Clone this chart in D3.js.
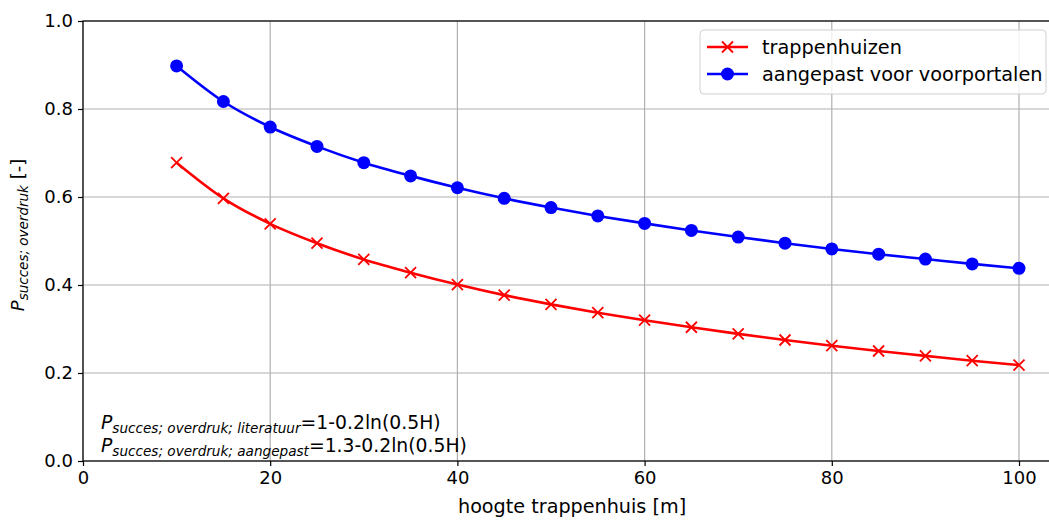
<!DOCTYPE html>
<html><head><meta charset="utf-8">
<script src="https://cdn.jsdelivr.net/npm/d3@7"></script>
<style>body{margin:0;background:#fff;} svg{display:block;font-family:"DejaVu Sans",sans-serif;}</style>
</head><body>
<svg id="c" width="1049" height="520"></svg>
<script>
const heights = [10,15,20,25,30,35,40,45,50,55,60,65,70,75,80,85,90,95,100];
const trappenhuizen = [0.678,0.597,0.539,0.495,0.458,0.428,0.401,0.377,0.356,0.337,0.320,0.304,0.289,0.275,0.262,0.250,0.239,0.228,0.218];
const aangepast = [0.898,0.817,0.759,0.715,0.678,0.648,0.621,0.597,0.576,0.557,0.540,0.524,0.509,0.495,0.482,0.470,0.459,0.448,0.438];
const xTicks = [0,20,40,60,80,100];
const yTicks = [0.0,0.2,0.4,0.6,0.8,1.0];

const svg = d3.select("#c");
const L = 83, T = 21, B = 461;
const x = d3.scaleLinear().domain([0,100]).range([L, 1019]);
const y = d3.scaleLinear().domain([0,1]).range([B, T]);
const xRight = x(104.5);
const FS = 18;

// grid
const g = svg.append("g");
g.selectAll(".gx").data(xTicks).enter().append("line")
  .attr("x1", d=>x(d)).attr("x2", d=>x(d)).attr("y1", T).attr("y2", B)
  .attr("stroke", "#b0b0b0").attr("stroke-width", 1.2);
g.selectAll(".gy").data(yTicks).enter().append("line")
  .attr("x1", L).attr("x2", xRight).attr("y1", d=>y(d)).attr("y2", d=>y(d))
  .attr("stroke", "#b0b0b0").attr("stroke-width", 1.2);

// axes
const xAxis = d3.axisBottom(x).tickValues(xTicks).tickFormat(d3.format("d")).tickSize(5).tickPadding(5);
const yAxis = d3.axisLeft(y).tickValues(yTicks).tickFormat(d3.format(".1f")).tickSize(5).tickPadding(5);
const ax = svg.append("g").attr("transform", `translate(0,${B})`).call(xAxis);
const ay = svg.append("g").attr("transform", `translate(${L},0)`).call(yAxis);
[ax, ay].forEach(a => {
  a.select(".domain").remove();
  a.selectAll("text").attr("font-size", FS).attr("fill", "#000").attr("font-family", "DejaVu Sans");
  a.selectAll("line").attr("stroke", "#000").attr("stroke-width", 1.2);
});
// spines
svg.append("rect").attr("x", L).attr("y", T).attr("width", xRight - L).attr("height", B - T)
  .attr("fill", "none").attr("stroke", "#000").attr("stroke-width", 1.2);

// lines
const makeLine = vals => d3.line().x((d,i)=>x(heights[i])).y(d=>y(d)).curve(d3.curveMonotoneX)(vals);
svg.append("path").attr("d", makeLine(trappenhuizen)).attr("fill","none").attr("stroke","#ff0000").attr("stroke-width",2.6);
svg.append("path").attr("d", makeLine(aangepast)).attr("fill","none").attr("stroke","#0000ff").attr("stroke-width",2.6);

// markers
const s = 5.5;
svg.selectAll(".xm").data(trappenhuizen).enter().append("path")
  .attr("d", (d,i)=>{const cx=x(heights[i]), cy=y(d); return `M${cx-s},${cy-s}L${cx+s},${cy+s}M${cx-s},${cy+s}L${cx+s},${cy-s}`;})
  .attr("stroke","#ff0000").attr("stroke-width",1.8).attr("fill","none");
svg.selectAll(".cm").data(aangepast).enter().append("circle")
  .attr("cx",(d,i)=>x(heights[i])).attr("cy",d=>y(d)).attr("r",6.5).attr("fill","#0000ff");

// axis labels
svg.append("text").attr("x", (L + xRight)/2).attr("y", 513).attr("text-anchor","middle")
  .attr("font-size",19.2).text("hoogte trappenhuis [m]");
const yl = svg.append("text").attr("transform", `translate(24,${(T+B)/2 - 6}) rotate(-90)`).attr("text-anchor","middle").attr("font-size",FS);
yl.append("tspan").attr("font-style","italic").text("P");
yl.append("tspan").attr("font-style","italic").attr("font-size",13.5).attr("dy",4).text("succes; overdruk");
yl.append("tspan").attr("dy",-4).text(" [-]");

// annotation
function annot(yy, sub, eq){
  const t = svg.append("text").attr("x",101).attr("y",yy).attr("font-size",18.8);
  t.append("tspan").attr("font-style","italic").text("P");
  t.append("tspan").attr("font-style","italic").attr("font-size",13.6).attr("dy",4).text(sub);
  t.append("tspan").attr("dy",-4).text(eq);
}
annot(429, "succes; overdruk; literatuur", "=1-0.2ln(0.5H)");
annot(452, "succes; overdruk; aangepast", "=1.3-0.2ln(0.5H)");

// legend
const lg = svg.append("g");
lg.append("rect").attr("x",700).attr("y",30).attr("width",346).attr("height",64).attr("rx",4)
  .attr("fill","rgba(255,255,255,0.8)").attr("stroke","#d0d0d0").attr("stroke-width",1);
const items = [{name:"trappenhuizen", color:"#ff0000", m:"x"},{name:"aangepast voor voorportalen", color:"#0000ff", m:"o"}];
items.forEach((it,i)=>{
  const yy = 47 + i*27;
  lg.append("line").attr("x1",707).attr("x2",748).attr("y1",yy).attr("y2",yy).attr("stroke",it.color).attr("stroke-width",2.6);
  if(it.m==="x"){
    lg.append("path").attr("d",`M${727.5-s},${yy-s}L${727.5+s},${yy+s}M${727.5-s},${yy+s}L${727.5+s},${yy-s}`).attr("stroke",it.color).attr("stroke-width",1.8);
  } else {
    lg.append("circle").attr("cx",727.5).attr("cy",yy).attr("r",6.5).attr("fill",it.color);
  }
  lg.append("text").attr("x",762).attr("y",yy+7).attr("font-size",19.3).text(it.name);
});
</script>
</body></html>
